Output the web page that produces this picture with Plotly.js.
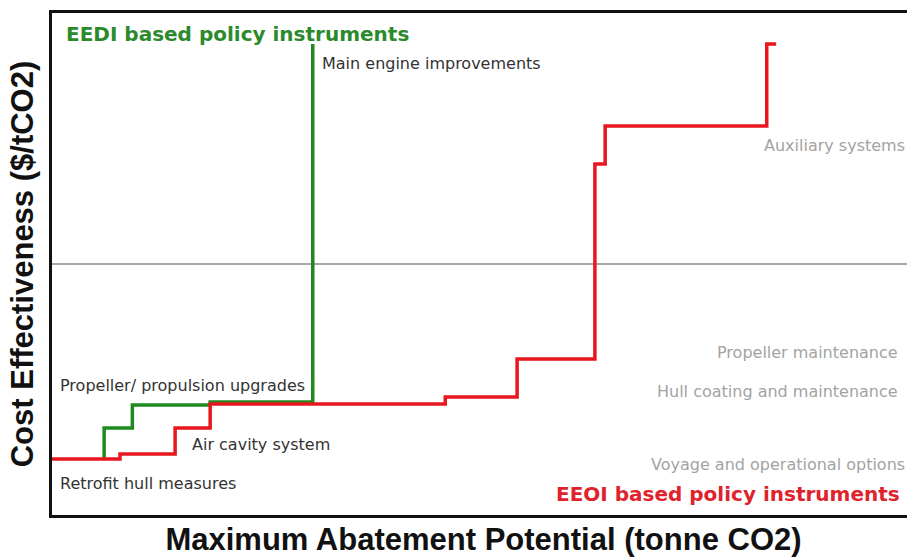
<!DOCTYPE html>
<html>
<head>
<meta charset="utf-8">
<script src="https://cdn.plot.ly/plotly-3.0.1.min.js"></script>
<style>html,body{margin:0;padding:0;background:#fff;overflow:hidden;}#chart{width:915px;height:557px;}</style>
</head>
<body>
<div id="chart"></div>
<script>
// Marginal abatement steps (arbitrary units; no scale shown in original)
const eeoiX = [0, 7.95, 14.4, 18.5, 46.0, 54.4, 63.5, 64.7, 83.6, 84.7];
const eeoiY = [-77.7, -75.7, -65.3, -55.8, -53.0, -37.8, 39.8, 55.0, 87.6, 87.6];
const eediX = [6.1, 9.4, 18.5, 30.5, 30.5];
const eediY = [-77.7, -65.3, -56.2, -55.0, 87.6];

const leftLabels = ["Main engine improvements", "Propeller/ propulsion upgrades", "Air cavity system", "Retrofit hull measures"];
const leftLabelX = [31.3, 0.7, 16.1, 0.7];
const leftLabelY = [79.7, -48.6, -72.1, -87.6];

const rightLabels = ["Auxiliary systems", "Propeller maintenance", "Hull coating and maintenance", "Voyage and operational options"];
const rightLabelX = [99.95, 99.2, 99.2, 100.0];
const rightLabelY = [47.4, -35.1, -50.6, -79.7];

const groupTitles = ["EEDI based policy instruments", "EEOI based policy instruments"];

const traces = [
  {x: eediX, y: eediY, mode: 'lines', line: {shape: 'vh', color: '#1f8a1f', width: 3.5}, hoverinfo: 'skip', name: 'EEDI'},
  {x: eeoiX, y: eeoiY, mode: 'lines', line: {shape: 'hv', color: '#e8161e', width: 3.5}, hoverinfo: 'skip', name: 'EEOI'}
];

const labelFont = {family: 'DejaVu Sans, Verdana, sans-serif', size: 16};
const annotations = [];
leftLabels.forEach((t, i) => annotations.push({
  text: t, x: leftLabelX[i], y: leftLabelY[i], xref: 'x', yref: 'y',
  xanchor: 'left', yanchor: 'middle', showarrow: false,
  font: Object.assign({}, labelFont, {color: '#333333'})
}));
rightLabels.forEach((t, i) => annotations.push({
  text: t, x: rightLabelX[i], y: rightLabelY[i], xref: 'x', yref: 'y',
  xanchor: 'right', yanchor: 'middle', showarrow: false,
  font: Object.assign({}, labelFont, {color: '#a3a3a3'})
}));
annotations.push({
  text: '<b>' + groupTitles[0] + '</b>', x: 1.4, y: 91.6, xref: 'x', yref: 'y',
  xanchor: 'left', yanchor: 'middle', showarrow: false,
  font: {family: 'DejaVu Sans, Verdana, sans-serif', size: 20, color: '#2b8a2b'}
});
annotations.push({
  text: '<b>' + groupTitles[1] + '</b>', x: 99.4, y: -91.6, xref: 'x', yref: 'y',
  xanchor: 'right', yanchor: 'middle', showarrow: false,
  font: {family: 'DejaVu Sans, Verdana, sans-serif', size: 20, color: '#e0222c'}
});

const layout = {
  width: 915, height: 557,
  margin: {l: 52, r: 0, t: 13, b: 42},
  paper_bgcolor: '#ffffff', plot_bgcolor: '#ffffff',
  showlegend: false,
  xaxis: {
    range: [0, 100.94], showgrid: false, zeroline: false, showticklabels: false, ticks: '',
    showline: true, mirror: true, linecolor: '#111111', linewidth: 3,
    title: {text: '<b>Maximum Abatement Potential (tonne CO2)</b>', standoff: 12,
            font: {family: 'Liberation Sans, Arial, sans-serif', size: 31, color: '#111111'}}
  },
  yaxis: {
    range: [-100, 100], showgrid: false, showticklabels: false, ticks: '',
    zeroline: true, zerolinecolor: '#a8a8a8', zerolinewidth: 2,
    showline: true, mirror: false, linecolor: '#111111', linewidth: 3,
    title: {text: '<b>Cost Effectiveness ($/tCO2)</b>', standoff: 7,
            font: {family: 'Liberation Sans, Arial, sans-serif', size: 31, color: '#111111'}}
  },
  annotations: annotations
};

Plotly.newPlot('chart', traces, layout, {displayModeBar: false, staticPlot: true});
</script>
</body>
</html>
